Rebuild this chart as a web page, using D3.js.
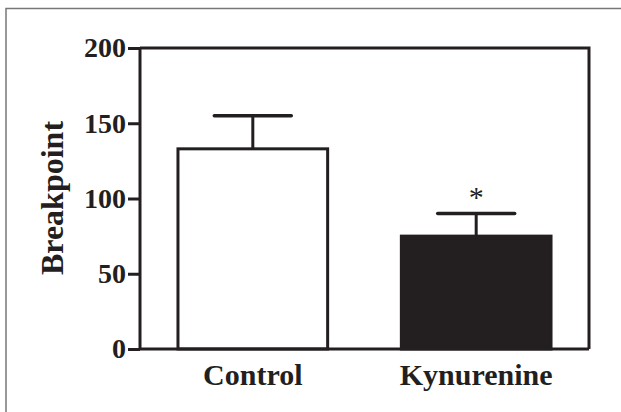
<!DOCTYPE html>
<html><head><meta charset="utf-8">
<script src="https://cdn.jsdelivr.net/npm/d3@7"></script>
<style>body{margin:0;background:#fff}svg{display:block}</style>
</head><body>
<svg id="c" width="621" height="412"></svg>
<script>
const categories = ["Control", "Kynurenine"];
const means = [133, 75];
const errors = [22, 15];
const fills = ["#ffffff", "#231f20"];
const significant = [false, true];
const yTicks = [0, 50, 100, 150, 200];
const yLabel = "Breakpoint";

const ink = "#231f20";
const svg = d3.select("#c");
const m = {left: 140, top: 48, right: 589, bottom: 349};
const font = "'Liberation Serif','Times New Roman',serif";

// outer frame
svg.append("rect").attr("x", 6).attr("y", 8.5).attr("width", 640).attr("height", 430)
  .attr("fill", "none").attr("stroke", "#777").attr("stroke-width", 1.5);

const x = d3.scaleBand().domain(categories).range([m.left, m.right]).paddingInner(0.33).paddingOuter(0.17);
const y = d3.scaleLinear().domain([0, 200]).range([m.bottom, m.top]);

// bars
svg.selectAll("rect.bar").data(categories).join("rect").attr("class", "bar")
  .attr("x", d => x(d)).attr("width", x.bandwidth())
  .attr("y", (d, i) => y(means[i])).attr("height", (d, i) => y(0) - y(means[i]))
  .attr("fill", (d, i) => fills[i]).attr("stroke", ink).attr("stroke-width", 3);

// error bars
const capW = 77;
categories.forEach((c, i) => {
  const cx = x(c) + x.bandwidth() / 2;
  svg.append("line").attr("x1", cx).attr("x2", cx).attr("y1", y(means[i])).attr("y2", y(means[i] + errors[i]))
    .attr("stroke", ink).attr("stroke-width", 3);
  svg.append("line").attr("x1", cx - capW / 2).attr("x2", cx + capW / 2)
    .attr("y1", y(means[i] + errors[i])).attr("y2", y(means[i] + errors[i]))
    .attr("stroke", ink).attr("stroke-width", 3.5).attr("stroke-linecap", "round");
  if (significant[i]) {
    svg.append("text").attr("x", cx).attr("y", y(means[i] + errors[i]) - 7)
      .attr("text-anchor", "middle").attr("font-family", font).attr("font-size", 30)
      .attr("fill", ink).text("*");
  }
});

// box (top and right)
svg.append("path").attr("d", `M${m.left},${m.top}H${m.right}V${m.bottom}`)
  .attr("fill", "none").attr("stroke", ink).attr("stroke-width", 3);

// y axis
const ya = svg.append("g").attr("transform", `translate(${m.left},0)`)
  .call(d3.axisLeft(y).tickValues(yTicks).tickSize(12).tickPadding(2).tickFormat(d3.format("d")));
ya.select(".domain").attr("stroke", ink).attr("stroke-width", 3).attr("d", `M0,${m.top}V${m.bottom}`);
ya.selectAll(".tick line").attr("stroke", ink).attr("stroke-width", 3);
ya.selectAll(".tick text").attr("font-family", font).attr("font-size", 28).attr("font-weight", "bold").attr("fill", ink);

// x axis
const xa = svg.append("g").attr("transform", `translate(0,${m.bottom})`)
  .call(d3.axisBottom(x).tickSize(0).tickPadding(10));
xa.select(".domain").attr("stroke", ink).attr("stroke-width", 3).attr("d", `M${m.left},0H${m.right}`);
xa.selectAll(".tick text").attr("font-family", font).attr("font-size", 30).attr("font-weight", "bold")
  .attr("fill", ink).attr("dy", 0).attr("y", 36);

// y label
svg.append("text").attr("transform", `translate(63,198) rotate(-90)`).attr("text-anchor", "middle")
  .attr("font-family", font).attr("font-size", 32).attr("font-weight", "bold").attr("fill", ink).text(yLabel);
</script>
</body></html>
